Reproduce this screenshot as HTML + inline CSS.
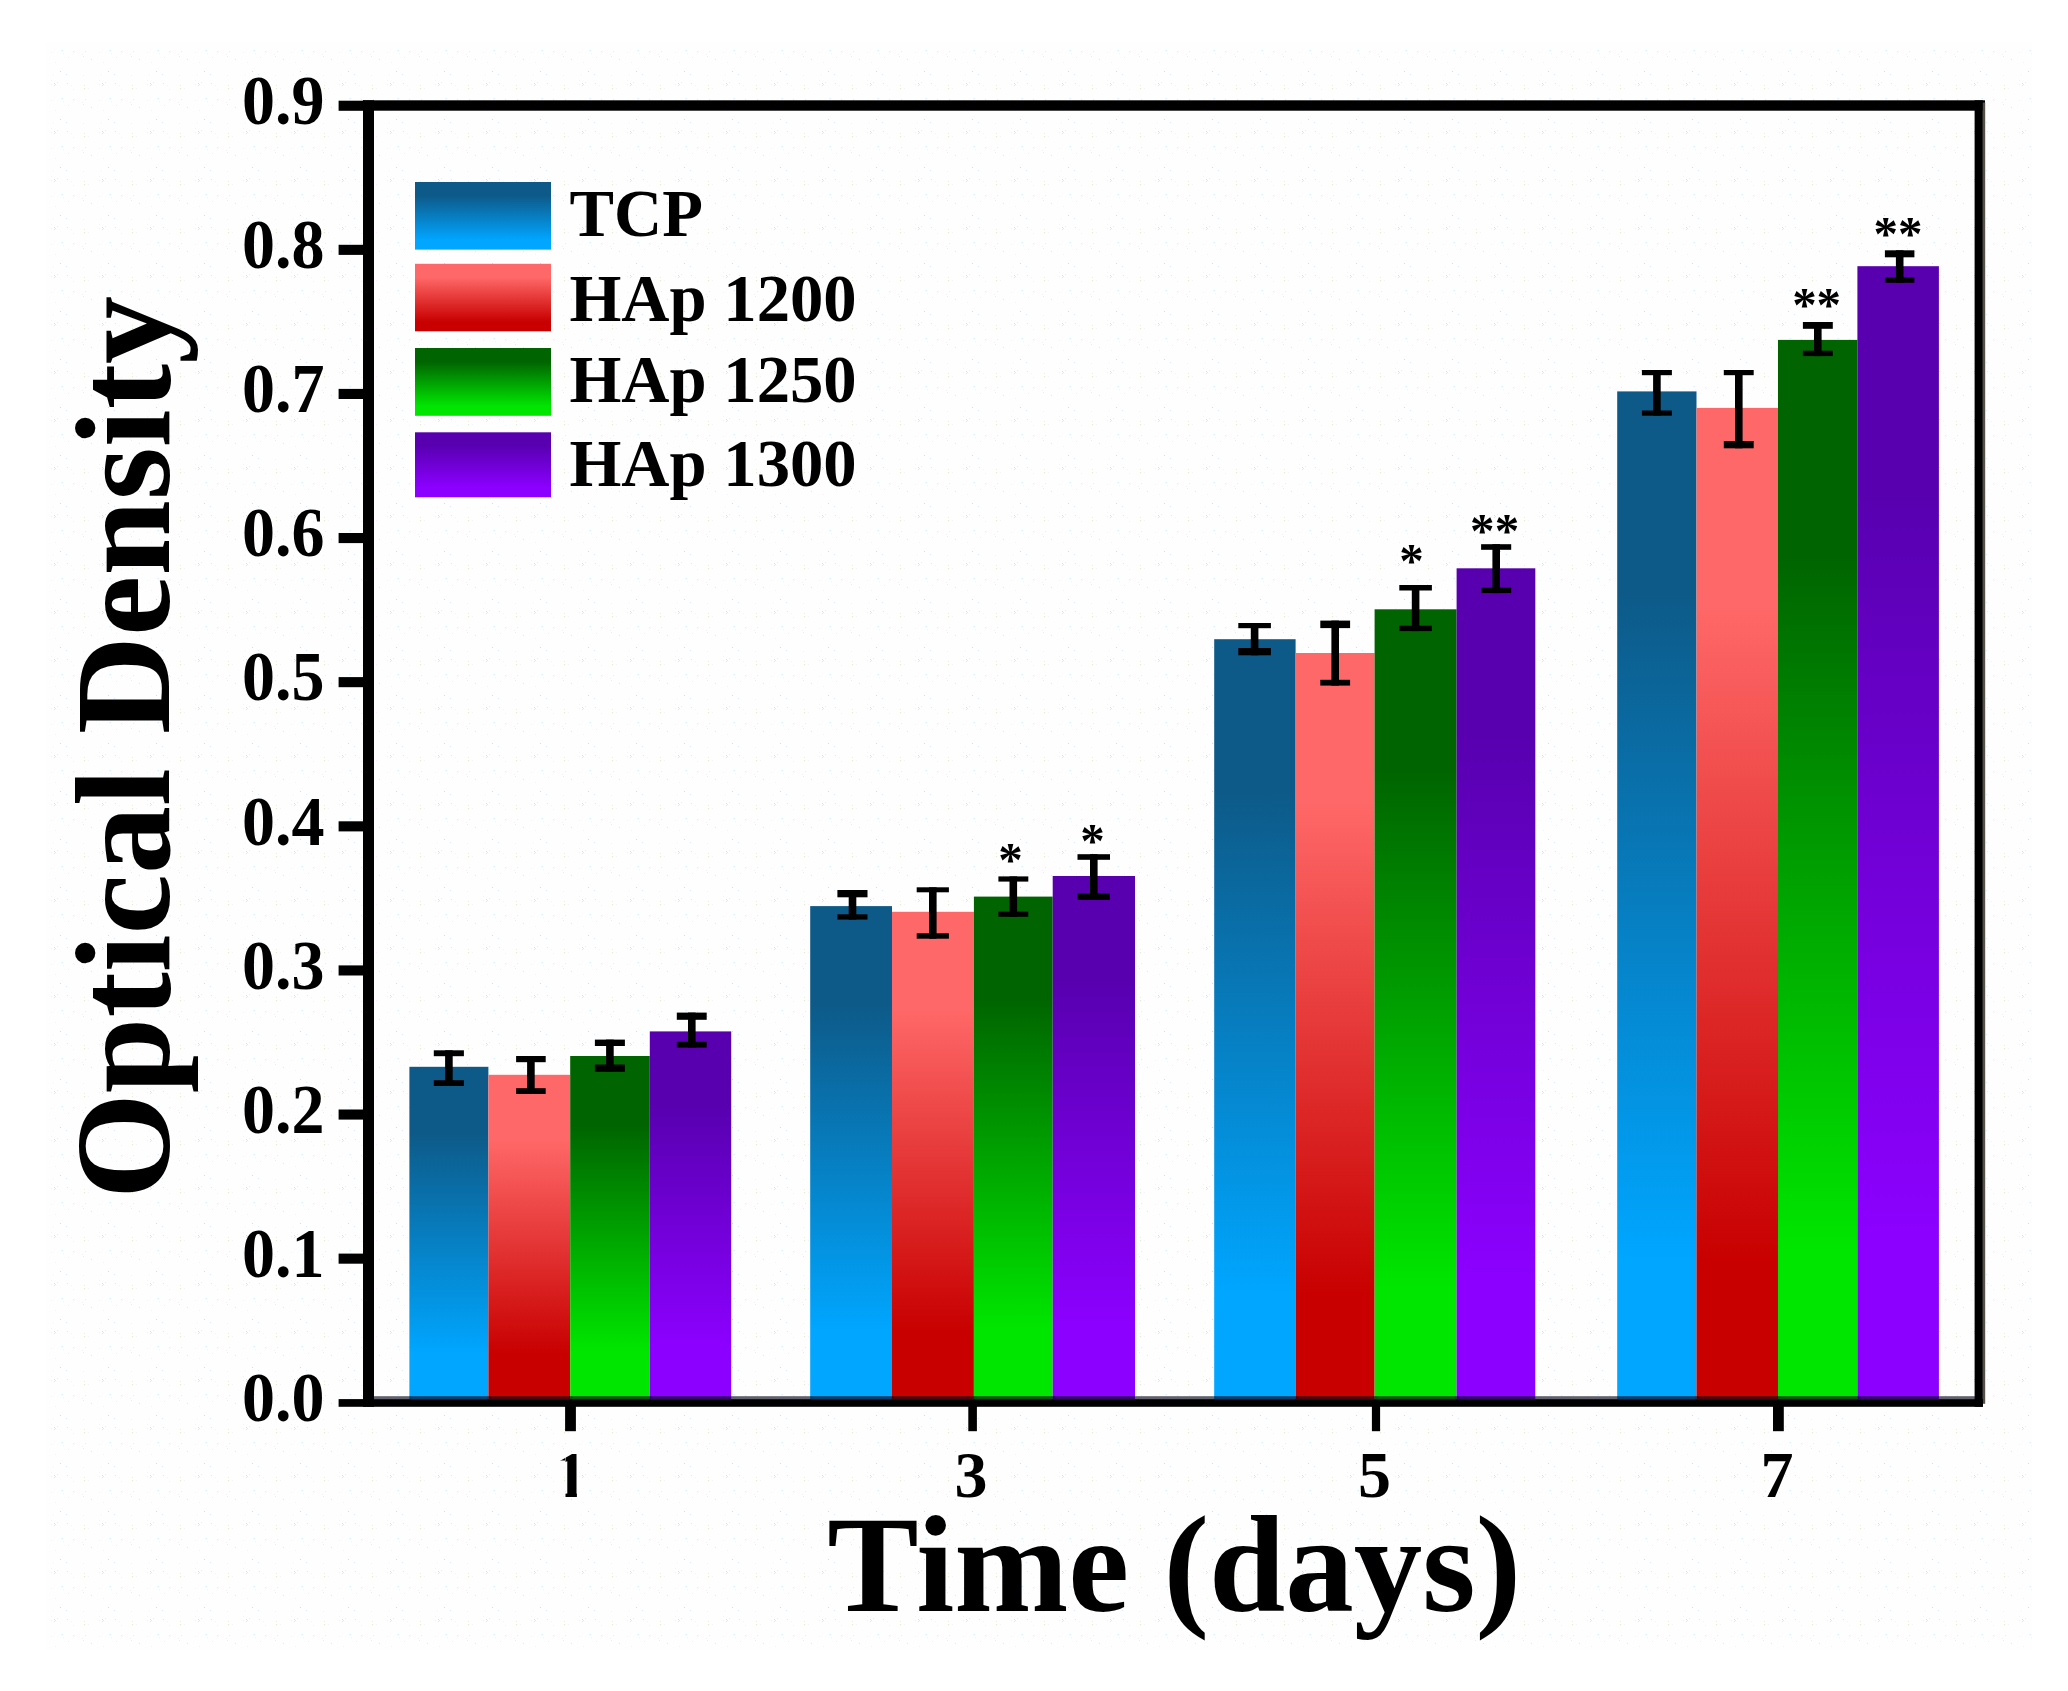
<!DOCTYPE html>
<html lang="en"><head><meta charset="utf-8"><title>Optical Density vs Time</title>
<style>
html,body{margin:0;padding:0;background:#fff;}
body{width:2068px;height:1691px;overflow:hidden;}
svg{display:block;}
text{font-family:"Liberation Serif","Times New Roman",serif;font-weight:bold;fill:#000;}
.tk{font-size:66px;}
.lg{font-size:66.7px;}
.ax{font-size:136px;}
.axx{font-size:137px;}
.st{font-family:"Liberation Sans",Arial,sans-serif;font-weight:normal;font-size:49px;}
</style></head><body>
<svg width="2068" height="1691" viewBox="0 0 2068 1691">
<defs>
<linearGradient id="gb" x1="0" y1="0" x2="0" y2="1"><stop offset="0" stop-color="#0d5a88"/><stop offset="0.2" stop-color="#0d5a88"/><stop offset="0.86" stop-color="#00a6ff"/><stop offset="1" stop-color="#00a6ff"/></linearGradient>
<linearGradient id="gr" x1="0" y1="0" x2="0" y2="1"><stop offset="0" stop-color="#ff6868"/><stop offset="0.2" stop-color="#ff6868"/><stop offset="0.86" stop-color="#c80000"/><stop offset="1" stop-color="#c80000"/></linearGradient>
<linearGradient id="gg" x1="0" y1="0" x2="0" y2="1"><stop offset="0" stop-color="#006400"/><stop offset="0.2" stop-color="#006400"/><stop offset="0.86" stop-color="#00e600"/><stop offset="1" stop-color="#00e600"/></linearGradient>
<linearGradient id="gp" x1="0" y1="0" x2="0" y2="1"><stop offset="0" stop-color="#5800b0"/><stop offset="0.2" stop-color="#5800b0"/><stop offset="0.86" stop-color="#8c00ff"/><stop offset="1" stop-color="#8c00ff"/></linearGradient>
<pattern id="dz" width="48" height="48" patternUnits="userSpaceOnUse"><rect x="20" y="9" width="1" height="1" fill="#fdeefd"/><rect x="25" y="41" width="1" height="1" fill="#fdeefd"/><rect x="3" y="4" width="1" height="1" fill="#fdeefd"/><rect x="34" y="6" width="1" height="1" fill="#fdeefd"/><rect x="23" y="37" width="1" height="1" fill="#fdeefd"/><rect x="3" y="32" width="1" height="1" fill="#fdeefd"/><rect x="13" y="2" width="1" height="1" fill="#fdeefd"/><rect x="5" y="27" width="1" height="1" fill="#fdeefd"/><rect x="26" y="4" width="1" height="1" fill="#fdeefd"/><rect x="15" y="5" width="1" height="1" fill="#fdeefd"/><rect x="35" y="27" width="1" height="1" fill="#fdeefd"/><rect x="3" y="36" width="1" height="1" fill="#fdeefd"/><rect x="7" y="14" width="1" height="1" fill="#fdeefd"/><rect x="40" y="40" width="1" height="1" fill="#fdeefd"/><rect x="37" y="3" width="1" height="1" fill="#d8f0ff"/><rect x="36" y="37" width="1" height="1" fill="#d8f0ff"/><rect x="25" y="3" width="1" height="1" fill="#d8f0ff"/><rect x="14" y="2" width="1" height="1" fill="#d8f0ff"/><rect x="35" y="8" width="1" height="1" fill="#d8f0ff"/><rect x="18" y="26" width="1" height="1" fill="#d8f0ff"/><rect x="9" y="34" width="1" height="1" fill="#d8f0ff"/><rect x="7" y="36" width="1" height="1" fill="#dcf2c4"/><rect x="19" y="35" width="1" height="1" fill="#dcf2c4"/><rect x="43" y="11" width="1" height="1" fill="#dcf2c4"/><rect x="6" y="37" width="1" height="1" fill="#dcf2c4"/><rect x="36" y="40" width="1" height="1" fill="#dcf2c4"/><rect x="12" y="23" width="1" height="1" fill="#dedcd2"/><rect x="6" y="35" width="1" height="1" fill="#dedcd2"/></pattern>
</defs>
<rect x="46" y="42" width="1986" height="1608" fill="#fefefe"/>
<rect x="46" y="42" width="1986" height="1608" fill="url(#dz)"/>

<g id="bars">
<rect x="409.4" y="1066.8" width="79.0" height="332.3" fill="url(#gb)"/>
<rect x="488.4" y="1074.8" width="81.8" height="324.3" fill="url(#gr)"/>
<rect x="570.2" y="1056.0" width="79.6" height="343.1" fill="url(#gg)"/>
<rect x="649.8" y="1031.4" width="81.4" height="367.7" fill="url(#gp)"/>
<rect x="810.2" y="906.1" width="81.8" height="493.0" fill="url(#gb)"/>
<rect x="892.0" y="911.8" width="81.9" height="487.3" fill="url(#gr)"/>
<rect x="973.9" y="896.6" width="78.8" height="502.5" fill="url(#gg)"/>
<rect x="1052.7" y="876.0" width="82.3" height="523.1" fill="url(#gp)"/>
<rect x="1214.2" y="639.2" width="81.4" height="759.9" fill="url(#gb)"/>
<rect x="1295.6" y="653.0" width="79.0" height="746.1" fill="url(#gr)"/>
<rect x="1374.6" y="609.3" width="82.0" height="789.8" fill="url(#gg)"/>
<rect x="1456.6" y="568.3" width="78.7" height="830.8" fill="url(#gp)"/>
<rect x="1617.2" y="391.4" width="79.3" height="1007.7" fill="url(#gb)"/>
<rect x="1696.5" y="407.9" width="81.5" height="991.2" fill="url(#gr)"/>
<rect x="1778.0" y="339.9" width="79.4" height="1059.2" fill="url(#gg)"/>
<rect x="1857.4" y="266.2" width="81.5" height="1132.9" fill="url(#gp)"/>
</g>
<g id="frame" fill="#000">
<rect x="374" y="1396.2" width="1601" height="3" fill="#000014" fill-opacity="0.62"/>
<rect x="363" y="100.3" width="1622" height="10.4"/>
<rect x="363" y="100.3" width="11" height="1306.5"/>
<rect x="1974.6" y="100.3" width="8.3" height="1306.5"/>
<rect x="1982.8" y="102.5" width="2.4" height="1301.3" fill="#555048"/>
<rect x="338.6" y="1399.1" width="1644.3" height="7.7"/>
<rect x="338.6" y="1253.6" width="26" height="10.1"/>
<rect x="338.6" y="1109.5" width="26" height="10.1"/>
<rect x="338.6" y="965.4" width="26" height="10.1"/>
<rect x="338.6" y="821.3" width="26" height="10.1"/>
<rect x="338.6" y="677.1" width="26" height="10.1"/>
<rect x="338.6" y="533.0" width="26" height="10.1"/>
<rect x="338.6" y="388.9" width="26" height="10.1"/>
<rect x="338.6" y="244.8" width="26" height="10.1"/>
<rect x="338.6" y="100.7" width="26" height="10.1"/>
<rect x="565.1" y="1404" width="10.8" height="27.2"/>
<rect x="968.3" y="1404" width="8.6" height="27.2"/>
<rect x="1371.9" y="1404" width="8.2" height="27.2"/>
<rect x="1773.0" y="1404" width="10.8" height="27.2"/>
</g>
<g id="ylabels" class="tk" text-anchor="end">
<text transform="translate(324.6,1420.9) scale(1,1.05)">0.0</text>
<text transform="translate(324.6,1276.8) scale(1,1.05)">0.1</text>
<text transform="translate(324.6,1132.7) scale(1,1.05)">0.2</text>
<text transform="translate(324.6,988.6) scale(1,1.05)">0.3</text>
<text transform="translate(324.6,844.5) scale(1,1.05)">0.4</text>
<text transform="translate(324.6,700.3) scale(1,1.05)">0.5</text>
<text transform="translate(324.6,556.2) scale(1,1.05)">0.6</text>
<text transform="translate(324.6,412.1) scale(1,1.05)">0.7</text>
<text transform="translate(324.6,268.0) scale(1,1.05)">0.8</text>
<text transform="translate(324.6,123.9) scale(1,1.05)">0.9</text>
</g>
<g id="xlabels" class="tk" text-anchor="middle">
<clipPath id="c1"><rect x="565.5" y="1440" width="11.4" height="70"/><rect x="555" y="1440" width="10" height="20.5"/></clipPath>
<text x="570.9" y="1497" clip-path="url(#c1)">1</text>
<text x="971" y="1497">3</text>
<text x="1374.6" y="1497">5</text>
<text x="1777" y="1497">7</text>
</g>
<g id="errorbars" fill="#000">
<rect x="433.8" y="1050.3" width="30.1" height="5.9"/><rect x="433.8" y="1080.2" width="30.1" height="5.8"/><rect x="445.1" y="1050.3" width="7.6" height="35.7"/>
<rect x="516.1" y="1056.0" width="29.6" height="6.2"/><rect x="516.1" y="1088.2" width="29.6" height="5.8"/><rect x="527.1" y="1056.0" width="7.6" height="38.0"/>
<rect x="594.9" y="1039.6" width="30.0" height="6.4"/><rect x="594.9" y="1064.5" width="30.0" height="7.3"/><rect x="606.1" y="1039.6" width="7.6" height="32.2"/>
<rect x="676.8" y="1012.6" width="29.9" height="7.2"/><rect x="676.8" y="1041.8" width="29.9" height="5.8"/><rect x="688.0" y="1012.6" width="7.6" height="35.0"/>
<rect x="837.4" y="890.0" width="30.1" height="7.3"/><rect x="837.4" y="914.3" width="30.1" height="5.3"/><rect x="848.7" y="890.0" width="7.6" height="29.6"/>
<rect x="916.7" y="887.3" width="32.2" height="5.0"/><rect x="916.7" y="933.3" width="32.2" height="5.4"/><rect x="929.0" y="887.3" width="7.6" height="51.4"/>
<rect x="998.4" y="876.4" width="29.9" height="5.2"/><rect x="998.4" y="911.6" width="29.9" height="5.2"/><rect x="1009.5" y="876.4" width="7.6" height="40.4"/>
<rect x="1077.5" y="854.2" width="32.5" height="5.6"/><rect x="1077.5" y="893.2" width="32.5" height="6.8"/><rect x="1090.0" y="854.2" width="7.6" height="45.8"/>
<rect x="1238.3" y="623.0" width="32.6" height="5.2"/><rect x="1238.3" y="648.0" width="32.6" height="7.3"/><rect x="1250.8" y="623.0" width="7.6" height="32.3"/>
<rect x="1320.3" y="620.6" width="29.8" height="7.5"/><rect x="1320.3" y="679.8" width="29.8" height="5.8"/><rect x="1331.4" y="620.6" width="7.6" height="65.0"/>
<rect x="1399.3" y="585.0" width="32.6" height="5.5"/><rect x="1399.3" y="625.7" width="32.6" height="5.4"/><rect x="1411.8" y="585.0" width="7.6" height="46.1"/>
<rect x="1481.1" y="544.2" width="30.1" height="5.6"/><rect x="1481.1" y="587.6" width="30.1" height="5.5"/><rect x="1492.4" y="544.2" width="7.6" height="48.9"/>
<rect x="1641.9" y="370.0" width="30.0" height="5.2"/><rect x="1641.9" y="410.5" width="30.0" height="5.2"/><rect x="1653.1" y="370.0" width="7.6" height="45.7"/>
<rect x="1723.8" y="370.0" width="29.9" height="5.2"/><rect x="1723.8" y="441.0" width="29.9" height="7.3"/><rect x="1735.0" y="370.0" width="7.6" height="78.3"/>
<rect x="1802.9" y="322.0" width="29.9" height="6.8"/><rect x="1802.9" y="350.7" width="29.9" height="5.4"/><rect x="1814.0" y="322.0" width="7.6" height="34.1"/>
<rect x="1884.9" y="250.3" width="29.5" height="7.0"/><rect x="1884.9" y="277.2" width="29.5" height="5.6"/><rect x="1895.9" y="250.3" width="7.6" height="32.5"/>
</g>
<g id="stars" class="st" text-anchor="middle">
<text x="1010.5" y="876.3">*</text>
<text x="1092.5" y="857.1">*</text>
<text x="1411.4" y="576.7">*</text>
<text x="1482.2" y="546.5">*</text>
<text x="1507.0" y="546.5">*</text>
<text x="1804.4" y="320.8">*</text>
<text x="1828.7" y="320.8">*</text>
<text x="1885.8" y="249.9">*</text>
<text x="1910.2" y="249.9">*</text>
</g>
<g id="legend">
<rect x="415" y="182" width="136" height="67.6" fill="url(#gb)"/>
<text class="lg" x="569.5" y="236">TCP</text>
<rect x="415" y="263.8" width="136" height="67.5" fill="url(#gr)"/>
<text class="lg" x="569.5" y="320.5">HAp 1200</text>
<rect x="415" y="348" width="136" height="67.8" fill="url(#gg)"/>
<text class="lg" x="569.5" y="402.3">HAp 1250</text>
<rect x="415" y="432.3" width="136" height="65" fill="url(#gp)"/>
<text class="lg" x="569.5" y="486">HAp 1300</text>
</g>
<text class="axx" x="1174.2" y="1610.8" text-anchor="middle">Time (days)</text>
<text class="ax" transform="translate(168.7,747.5) rotate(-90)" text-anchor="middle">Optical Density</text>
</svg></body></html>
